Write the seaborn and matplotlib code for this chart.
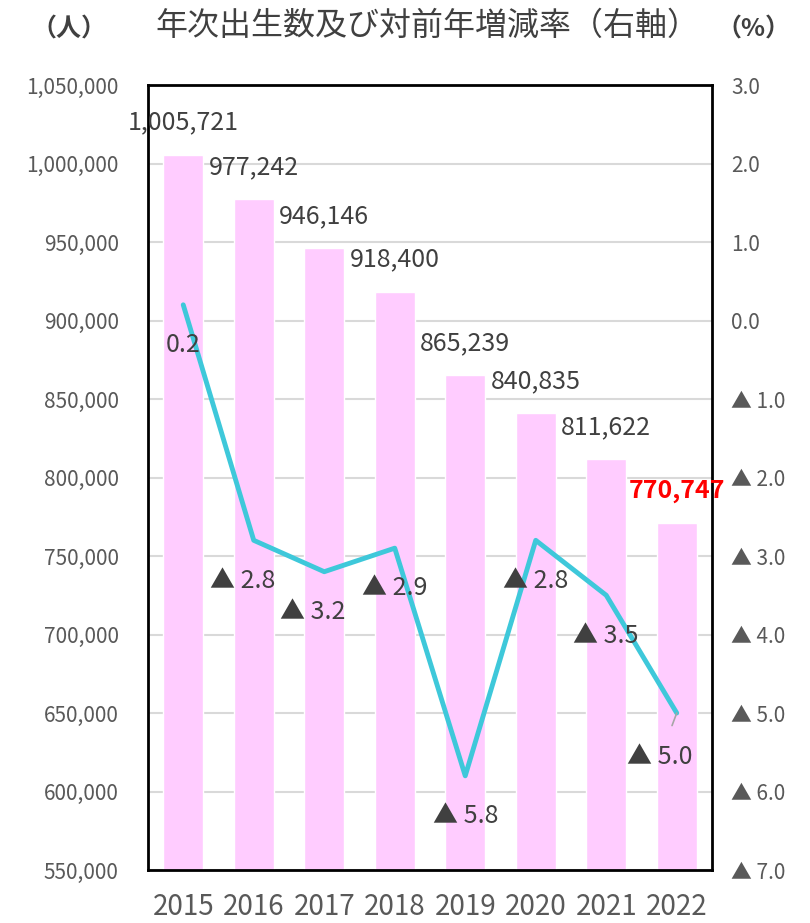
import matplotlib
matplotlib.use('Agg')
import matplotlib.pyplot as plt
import seaborn as sns
import numpy as np
import pandas as pd

# 年次出生数と対前年増減率
years = ['2015', '2016', '2017', '2018', '2019', '2020', '2021', '2022']
births = [1005721, 977242, 946146, 918400, 865239, 840835, 811622, 770747]
rates = [0.2, -2.8, -3.2, -2.9, -5.8, -2.8, -3.5, -5.0]

df = pd.DataFrame({'year': years, 'births': births, 'rate': rates})

sns.set_theme(style='white')
plt.rcParams['font.family'] = ['Noto Sans CJK JP', 'DejaVu Sans']

fig = plt.figure(figsize=(8.1, 9.23), dpi=100)
ax = fig.add_axes([0.1827, 0.0574, 0.6963, 0.8505])

sns.barplot(data=df, x='year', y='births', color='#FFCCFF', saturation=1,
            width=0.57, ax=ax, zorder=2)
ax.set_ylim(550000, 1050000)
ax.set_yticks(np.arange(550000, 1050001, 50000))
ax.set_yticklabels([f'{v:,}' for v in range(550000, 1050001, 50000)],
                   color='#595959', fontsize=15)
ax.yaxis.grid(True, color='#D9D9D9', linewidth=1.5, zorder=0)
ax.set_axisbelow(True)
ax.set_xlabel('')
ax.set_ylabel('')
ax.tick_params(axis='x', labelsize=20, colors='#595959', length=0, pad=16)
ax.tick_params(axis='y', length=0, pad=21)
for s in ax.spines.values():
    s.set_color('black')
    s.set_linewidth(2)

# bar labels
for i, v in enumerate(births):
    col = 'red' if i == len(births) - 1 else '#404040'
    fw = 'bold' if i == len(births) - 1 else 'normal'
    ax.annotate(f'{v:,}', xy=(i, v), xytext=(0, 23), textcoords='offset points',
                ha='center', va='center', fontsize=18, color=col,
                fontweight=fw, zorder=5)

ax2 = ax.twinx()
sns.lineplot(x=np.arange(len(years)), y=rates, color='#3EC8DA', linewidth=3.5,
             ax=ax2, zorder=4)
ax2.set_ylim(-7, 3)
rt = np.arange(-7, 4, 1)
ax2.set_yticks(rt)
ax2.set_yticklabels([f'{v:.1f}' if v >= 0 else f'▲ {abs(v):.1f}' for v in rt],
                    color='#595959', fontsize=15)
ax2.tick_params(axis='y', length=0, pad=14)
ax2.set_ylabel('')
for s in ax2.spines.values():
    s.set_visible(False)
ax.set_xlim(-0.5, len(years) - 0.5)

# rate labels
for i, r in enumerate(rates):
    txt = f'{r:.1f}' if r >= 0 else f'▲ {abs(r):.1f}'
    if i == len(rates) - 1:
        ax2.annotate(txt, xy=(i, r), xytext=(-12, -32), textcoords='offset points',
                     ha='center', va='center', fontsize=18, color='#404040',
                     arrowprops=dict(arrowstyle='-', color='#A6A6A6', lw=1.2,
                                     shrinkA=12, shrinkB=0), zorder=5)
    else:
        dx = -8 if i in (1, 2) else 0
        ax2.annotate(txt, xy=(i, r), xytext=(dx, -29), textcoords='offset points',
                     ha='center', va='center', fontsize=18, color='#404040', zorder=5)

fig.text(0.528, 0.972, '年次出生数及び対前年増減率（右軸）', ha='center', va='center',
         fontsize=23, color='#404040')
fig.text(0.085, 0.968, '（人）', ha='center', va='center', fontsize=18,
         color='#404040', fontweight='bold')
fig.text(0.93, 0.968, '（%）', ha='center', va='center', fontsize=18,
         color='#404040', fontweight='bold')

fig.savefig('out.png', dpi=100)
